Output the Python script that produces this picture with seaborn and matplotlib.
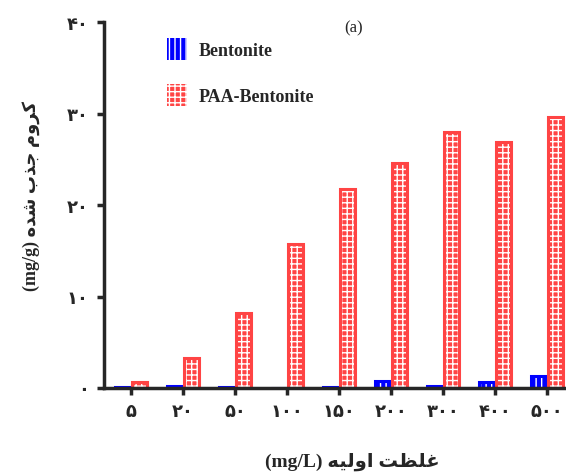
import pandas as pd
import seaborn as sns
import matplotlib.pyplot as plt
from matplotlib.patches import Patch, Rectangle

# Data
concentrations = ["5", "20", "50", "100", "150", "200", "300", "400", "500"]
bentonite = [0.1, 0.2, 0.1, 0.0, 0.15, 0.8, 0.2, 0.7, 1.3]
paa_bentonite = [0.7, 3.3, 8.2, 15.7, 21.8, 24.6, 28.0, 26.9, 29.6]
series_names = ["Bentonite", "PAA-Bentonite"]
y_ticks = [0, 10, 20, 30, 40]

x_title = "غلظت اولیه"
y_title = "کروم جذب شده"

COLORS = ["#0000ff", "#ff4444"]
HATCHES = ["|||", "+++"]

FA_DIGITS = str.maketrans("0123456789", "۰۱۲۳۴۵۶۷۸۹")

# presentation forms: isolated, final, initial, medial (None -> right-joining only)
FORMS = {
    "ا": ("\ufe8d", "\ufe8e", None, None),
    "و": ("\ufeed", "\ufeee", None, None),
    "ر": ("\ufead", "\ufeae", None, None),
    "د": ("\ufea9", "\ufeaa", None, None),
    "ذ": ("\ufeab", "\ufeac", None, None),
    "ل": ("\ufedd", "\ufede", "\ufedf", "\ufee0"),
    "ی": ("\ufbfc", "\ufbfd", "\ufef3", "\ufef4"),
    "ه": ("\ufee9", "\ufeea", "\ufeeb", "\ufeec"),
    "غ": ("\ufecd", "\ufece", "\ufecf", "\ufed0"),
    "ظ": ("\ufec5", "\ufec6", "\ufec7", "\ufec8"),
    "ت": ("\ufe95", "\ufe96", "\ufe97", "\ufe98"),
    "ک": ("\ufb8e", "\ufb8f", "\ufedb", "\ufedc"),
    "م": ("\ufee1", "\ufee2", "\ufee3", "\ufee4"),
    "ج": ("\ufe9d", "\ufe9e", "\ufe9f", "\ufea0"),
    "ب": ("\ufe8f", "\ufe90", "\ufe91", "\ufe92"),
    "ش": ("\ufeb5", "\ufeb6", "\ufeb7", "\ufeb8"),
}


def shape_word(word):
    out = []
    for i, ch in enumerate(word):
        f = FORMS[ch]
        prev_joins = i > 0 and FORMS[word[i - 1]][2] is not None
        next_joins = i < len(word) - 1 and f[2] is not None
        if prev_joins and next_joins:
            out.append(f[3])
        elif prev_joins:
            out.append(f[1])
        elif next_joins:
            out.append(f[2])
        else:
            out.append(f[0])
    return "".join(reversed(out))


def rtl(text):
    return " ".join(shape_word(w) for w in reversed(text.split()))


plt.rcParams["hatch.linewidth"] = 1.0
sns.set_style("ticks")
plt.rcParams["font.family"] = ["Liberation Serif", "DejaVu Sans"]
plt.rcParams["font.weight"] = "bold"

df = pd.DataFrame({
    "conc": concentrations * 2,
    "value": bentonite + paa_bentonite,
    "series": [series_names[0]] * len(concentrations) + [series_names[1]] * len(concentrations),
})

fig = plt.figure(figsize=(5.66, 4.77), dpi=100)
ax = fig.add_axes([0.184, 0.1845, 0.816, 0.767])

sns.barplot(data=df, x="conc", y="value", hue="series", order=concentrations,
            hue_order=series_names, palette=COLORS, saturation=1, width=0.66, gap=0.15,
            errorbar=None, legend=False, ax=ax)

n = len(concentrations)
for i, p in enumerate(list(ax.patches)):
    k = i // n
    p.set_hatch(HATCHES[k])
    p.set_edgecolor("white")
    p.set_linewidth(0)
    ax.add_patch(Rectangle(p.get_xy(), p.get_width(), p.get_height(), fill=False,
                           edgecolor=COLORS[k], linewidth=2.2, zorder=2))

ax.set_xlim(-0.52, 8.37)
ax.set_ylim(0, 40)
ax.set_yticks(y_ticks)
ax.set_yticklabels([str(t).translate(FA_DIGITS) for t in y_ticks], fontsize=13, fontweight="bold")
ax.set_xticks(range(n))
ax.set_xticklabels([c.translate(FA_DIGITS) for c in concentrations], fontsize=13, fontweight="bold")

sns.despine(ax=ax)
for s in ["left", "bottom"]:
    ax.spines[s].set_linewidth(2.5)
ax.tick_params(axis="both", direction="out", length=5, width=2.5, pad=6)

ax.set_xlabel("(mg/L) " + rtl(x_title), fontsize=14, fontweight="bold")
ax.set_ylabel("(mg/g) " + rtl(y_title), fontsize=13, fontweight="bold")
ax.xaxis.set_label_coords(0.537, -0.175)
ax.yaxis.set_label_coords(-0.139, 0.527)

handles = [Patch(facecolor=COLORS[k], edgecolor="white", linewidth=0, hatch=HATCHES[k])
           for k in range(2)]
ax.legend(handles, series_names, loc="upper left", bbox_to_anchor=(0.1, 1.0),
          frameon=False, handlelength=1.15, handleheight=1.5, labelspacing=1.3,
          handletextpad=0.6, prop={"size": 13, "weight": "bold"})

ax.text(0.54, 0.985, "(a)", transform=ax.transAxes, fontsize=12, fontweight="normal",
        ha="center", va="center")

fig.savefig("out.png", dpi=100)
